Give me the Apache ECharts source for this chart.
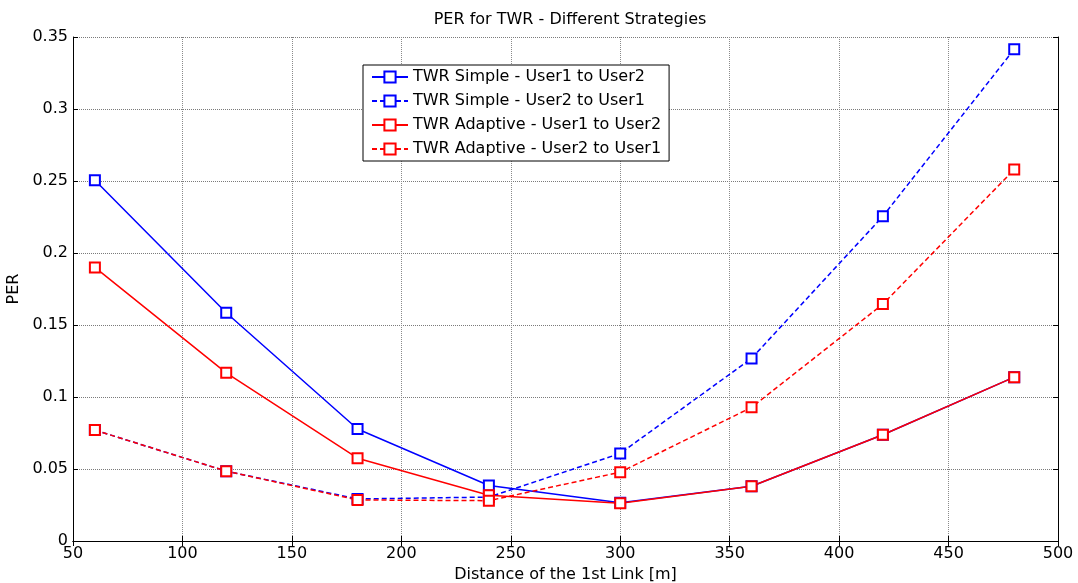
<!DOCTYPE html>
<html><head><meta charset="utf-8">
<script src="https://cdn.jsdelivr.net/npm/echarts@6/dist/echarts.min.js"></script>
<style>html,body{margin:0;padding:0;background:#fff}#c{width:1078px;height:583px}</style>
</head><body><div id="c"></div>
<script>
const distances = [60, 120, 180, 240, 300, 360, 420, 480];
const simpleU1toU2 = [0.2505, 0.1585, 0.0778, 0.0385, 0.0265, 0.0380, 0.0738, 0.1138];
const simpleU2toU1 = [0.0770, 0.0485, 0.0292, 0.0305, 0.0608, 0.1268, 0.2255, 0.3415];
const adaptiveU1toU2 = [0.1900, 0.1168, 0.0575, 0.0318, 0.0262, 0.0380, 0.0738, 0.1138];
const adaptiveU2toU1 = [0.0770, 0.0485, 0.0285, 0.0280, 0.0478, 0.0928, 0.1645, 0.2580];
const seriesNames = ['TWR Simple - User1 to User2','TWR Simple - User2 to User1','TWR Adaptive - User1 to User2','TWR Adaptive - User2 to User1'];

const font = 'DejaVu Sans, sans-serif';
function mk(name, vals, color, dashed){
  return {
    name, type:'line', data: distances.map((d,i)=>[d, vals[i]]),
    symbol:'emptyRect', symbolSize:10,
    lineStyle:{color, width:1.5, type: dashed ? [5,3] : 'solid'},
    itemStyle:{color, borderColor:color, borderWidth:1.5},
    emphasis:{disabled:true}, animation:false
  };
}
const chart = echarts.init(document.getElementById('c'));
chart.setOption({
  animation:false,
  backgroundColor:'#fff',
  title:{text:'PER for TWR - Different Strategies', left:565, top:7, textAlign:'center',
    textStyle:{fontFamily:font, fontSize:16, fontWeight:'normal', color:'#000'}},
  grid:{left:73, top:37, right:20, bottom:42, containLabel:false, outerBoundsMode:'none'},
  legend:{
    orient:'vertical', left:363, top:65, padding:[4,8,4,8],
    backgroundColor:'#fff', borderColor:'#000', borderWidth:1,
    itemWidth:36, itemHeight:14, itemGap:8,
    textStyle:{fontFamily:font, fontSize:16, color:'#000'},
    data: seriesNames
  },
  xAxis:[{
    type:'value', min:50, max:500, interval:50,
    name:'Distance of the 1st Link [m]', nameLocation:'middle', nameGap:23,
    nameTextStyle:{fontFamily:font, fontSize:16, color:'#000'},
    axisLine:{lineStyle:{color:'#000', width:1}},
    axisTick:{inside:true, length:5, lineStyle:{color:'#000'}},
    axisLabel:{fontFamily:font, fontSize:16, color:'#000', margin:5},
    splitLine:{show:true, lineStyle:{color:'#8a8a8a', type:[1,1], width:1}}
  },{
    type:'value', min:50, max:500, interval:50, position:'top',
    axisLine:{show:true, lineStyle:{color:'#000'}},
    axisTick:{inside:true, length:5, lineStyle:{color:'#000'}},
    axisLabel:{show:false}, splitLine:{show:false}
  }],
  yAxis:[{
    type:'value', min:0, max:0.35, interval:0.05,
    name:'PER', nameLocation:'middle', nameGap:43, nameRotate:90,
    nameTextStyle:{fontFamily:font, fontSize:16, color:'#000'},
    axisLine:{show:true, lineStyle:{color:'#000', width:1}},
    axisTick:{show:true, inside:true, length:5, lineStyle:{color:'#000'}},
    axisLabel:{fontFamily:font, fontSize:16, color:'#000', margin:5},
    splitLine:{show:true, lineStyle:{color:'#7a7a7a', type:[1,1], width:1}}
  },{
    type:'value', min:0, max:0.35, interval:0.05, position:'right',
    axisLine:{show:true, lineStyle:{color:'#000'}},
    axisTick:{show:true, inside:true, length:5, lineStyle:{color:'#000'}},
    axisLabel:{show:false}, splitLine:{show:false}
  }],
  series:[
    mk(seriesNames[0], simpleU1toU2, '#0000ff', false),
    mk(seriesNames[1], simpleU2toU1, '#0000ff', true),
    mk(seriesNames[2], adaptiveU1toU2, '#ff0000', false),
    mk(seriesNames[3], adaptiveU2toU1, '#ff0000', true)
  ]
});
</script></body></html>
